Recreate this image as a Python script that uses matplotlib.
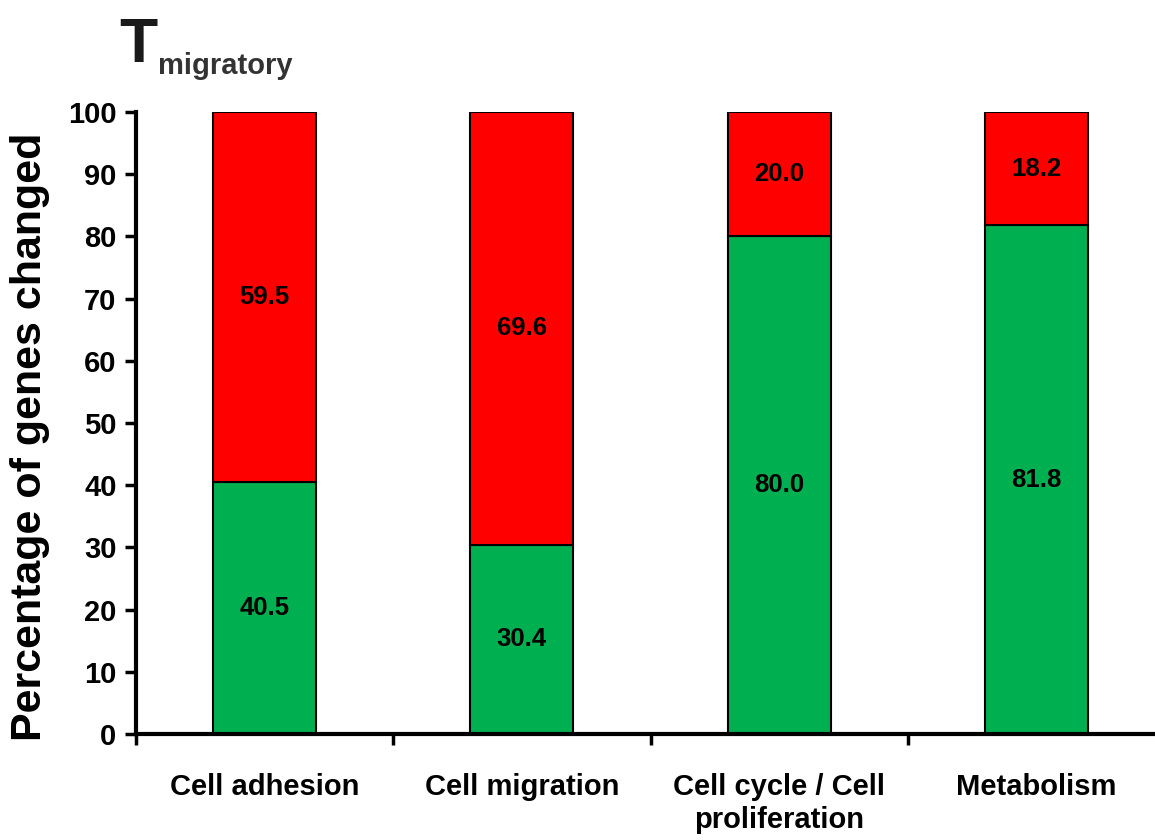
import matplotlib
matplotlib.use("Agg")
import matplotlib.pyplot as plt
import numpy as np

# gene groups and share of genes changed in each direction (%)
categories = ["Cell adhesion", "Cell migration", "Cell cycle / Cell\nproliferation", "Metabolism"]
green_pct = [40.5, 30.4, 80.0, 81.8]
red_pct = [59.5, 69.6, 20.0, 18.2]

plt.rcParams['font.family'] = ['Liberation Sans', 'DejaVu Sans']

fig = plt.figure(figsize=(11.55, 8.4), dpi=100)
ax = fig.add_axes([136/1155, 106/840, 1029/1155, 622/840])

x = np.arange(len(categories))
bw = 0.4
ax.bar(x, green_pct, width=bw, color='#00B050', edgecolor='black', linewidth=1.5)
ax.bar(x, red_pct, width=bw, bottom=green_pct, color='#FF0000', edgecolor='black', linewidth=1.5)

# value labels in the middle of each segment
for i in range(len(categories)):
    ax.text(x[i], green_pct[i] / 2, f"{green_pct[i]:.1f}", ha='center', va='center',
            fontsize=18.5, fontweight='bold')
    ax.text(x[i], green_pct[i] + red_pct[i] / 2, f"{red_pct[i]:.1f}", ha='center', va='center',
            fontsize=18.5, fontweight='bold')

ax.set_xlim(-0.5, len(categories) - 0.5)
ax.set_ylim(0, 100)
ax.set_yticks(range(0, 101, 10))
ax.set_yticklabels([str(v) for v in range(0, 101, 10)], fontsize=21, fontweight='bold')

# category ticks sit between the bars, names centred under each bar
ax.set_xticks(np.arange(-0.5, len(categories), 1.0))
ax.set_xticklabels([])
ax.set_xticks(x, minor=True)
ax.set_xticklabels(categories, minor=True, fontsize=21, fontweight='bold', linespacing=1.25)
ax.tick_params(axis='x', which='minor', length=0, pad=28)
ax.tick_params(axis='x', which='major', length=8, width=2.5, direction='out')
ax.tick_params(axis='y', length=8, width=2.5, direction='out', pad=6)

for s in ['top', 'right']:
    ax.spines[s].set_visible(False)
for s in ['left', 'bottom']:
    ax.spines[s].set_linewidth(3)

fig.text(30/1155, (840 - 437)/840, "Percentage of genes changed", rotation=90,
         ha='center', va='center', fontsize=31, fontweight='bold')

# title: T with subscript
fig.text(119/1155, (840 - 62)/840, "T", fontsize=45, fontweight='bold',
         ha='left', va='baseline', color='#1a1a1a')
fig.text(158/1155, (840 - 74)/840, "migratory", fontsize=21, fontweight='bold',
         ha='left', va='baseline', color='#333333')

fig.savefig("out.png", dpi=100)
